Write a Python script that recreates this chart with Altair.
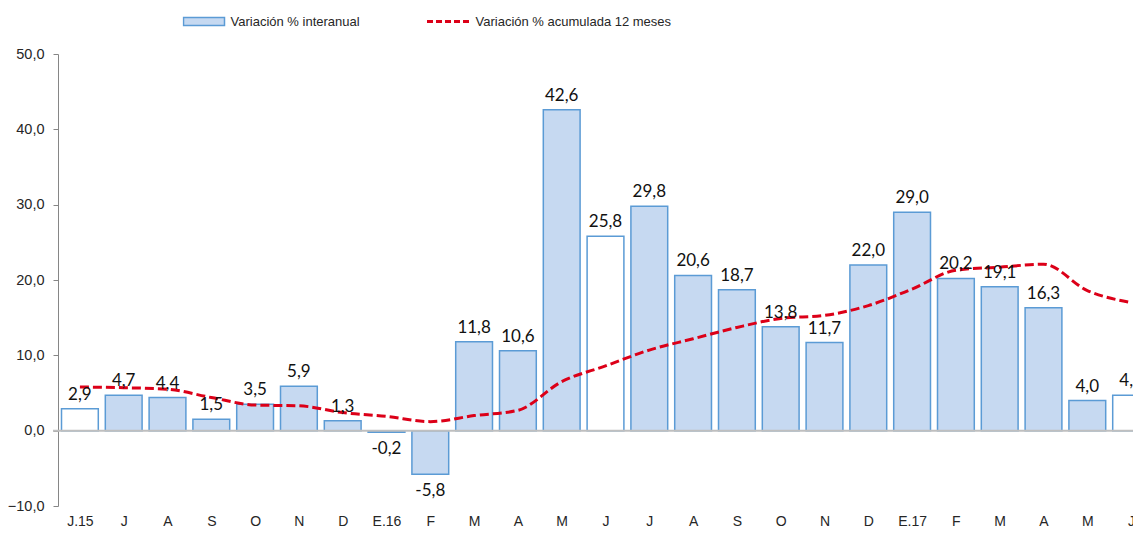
import altair as alt
import pandas as pd

etiquetas = ["J.15", "J", "A", "S", "O", "N", "D", "E.16", "F", "M", "A", "M", "J",
             "J", "A", "S", "O", "N", "D", "E.17", "F", "M", "A", "M", "J"]
interanual = [2.9, 4.7, 4.4, 1.5, 3.5, 5.9, 1.3, -0.2, -5.8, 11.8, 10.6, 42.6, 25.8,
              29.8, 20.6, 18.7, 13.8, 11.7, 22.0, 29.0, 20.2, 19.1, 16.3, 4.0, 4.7]
acumulada = [5.8, 5.7, 5.5, 4.4, 3.4, 3.3, 2.4, 1.9, 1.2, 2.0, 2.7, 6.5, 8.6,
             10.7, 12.2, 13.7, 14.9, 15.3, 16.6, 18.8, 21.3, 21.7, 22.1, 18.6, 17.0]
barras_blancas = [0, 12, 24]
y_ticks = [-10, 0, 10, 20, 30, 40, 50]

serie_barras = "Variación % interanual"
serie_linea = "Variación % acumulada 12 meses"

df = pd.DataFrame({
    "idx": list(range(len(etiquetas))),
    "etiqueta": etiquetas,
    "interanual": interanual,
    "acumulada": acumulada,
})
df["blanca"] = df["idx"].isin(barras_blancas)
df["texto"] = [f"{v:.1f}".replace(".", ",") for v in interanual]
df["serie"] = serie_barras
df["serie2"] = serie_linea

AXIS_FONT = "Liberation Sans"
TEXT_COLOR = "#262626"
label_array = "[" + ",".join("'" + e + "'" for e in etiquetas) + "]"
HALF_BAR = 0.42

PLOT_W = 1075
PLOT_H = 452
STEP = 43.8  # pixels per category, as in the original
# the last category runs past the right edge of the picture, as in the original
x_scale = alt.Scale(domain=[-0.5, -0.5 + PLOT_W / STEP], nice=False, zero=False, padding=0)
x_axis = alt.Axis(
    title=None, labelAngle=0, domain=False, ticks=False, grid=False,
    values=list(range(len(etiquetas))), labelOverlap=False, labelFlush=False,
    labelExpr=label_array + "[datum.value]",
    labelFont=AXIS_FONT, labelFontSize=14, labelColor=TEXT_COLOR,
    labelPadding=8,
)
y_scale = alt.Scale(domain=[-10, 50], nice=False, zero=False, padding=0)

base = alt.Chart(df)

bars = base.transform_calculate(
    x0=f"datum.idx - {HALF_BAR}", x1=f"datum.idx + {HALF_BAR}", base0="0"
).mark_bar(stroke="#5b9bd5", strokeWidth=1.5, orient="vertical").encode(
    x=alt.X("x0:Q", scale=x_scale, axis=x_axis),
    x2="x1:Q",
    y=alt.Y(
        "interanual:Q", scale=y_scale,
        axis=alt.Axis(
            title=None, values=y_ticks, grid=False,
            labelExpr="replace(format(datum.value, '.1f'), '.', ',')",
            labelFont=AXIS_FONT, labelFontSize=14.5, labelColor=TEXT_COLOR,
            domainColor="#868686", tickColor="#868686", tickSize=5,
            labelPadding=9,
        ),
    ),
    y2="base0:Q",
    fill=alt.condition(
        "datum.blanca",
        alt.value("white"),
        alt.Fill(
            "serie:N",
            scale=alt.Scale(domain=[serie_barras], range=["#c6d9f1"]),
            legend=alt.Legend(
                title=None, orient="none", legendX=124.5, legendY=-40.5,
                symbolType="M-1,-0.195L1,-0.195L1,0.195L-1,0.195Z",
                symbolSize=1681, symbolStrokeColor="#5b9bd5",
                symbolStrokeWidth=1.5, symbolOpacity=1, clipHeight=16,
                labelOffset=5, labelFont=AXIS_FONT, labelFontSize=13,
                labelColor=TEXT_COLOR, padding=0, labelLimit=500,
            ),
        ),
    ),
)

zero_rule = alt.Chart(pd.DataFrame({"cero": [0]})).mark_rule(
    color="#bfbfbf", strokeWidth=2
).encode(y=alt.Y("cero:Q", scale=y_scale), x=alt.value(-5), x2=alt.value(PLOT_W))

line = base.mark_line(
    strokeDash=[9, 4], strokeWidth=3, interpolate="monotone", strokeCap="butt"
).encode(
    x=alt.X("idx:Q", scale=x_scale),
    y=alt.Y("acumulada:Q", scale=y_scale),
    stroke=alt.Stroke(
        "serie2:N",
        scale=alt.Scale(domain=[serie_linea], range=["#dc0018"]),
        legend=alt.Legend(
            title=None, orient="none", legendX=367.5, legendY=-40.5,
            symbolType="stroke", symbolSize=1764, symbolStrokeWidth=3,
            symbolDash=[6, 3], clipHeight=16, labelOffset=5,
            labelFont=AXIS_FONT, labelFontSize=13, labelColor=TEXT_COLOR,
            padding=0, labelLimit=500,
        ),
    ),
)

text_pos = base.transform_filter("datum.interanual >= 0").mark_text(
    baseline="alphabetic", dy=-9, font="Lato", fontSize=17, color="#111111"
).encode(
    x=alt.X("idx:Q", scale=x_scale),
    y=alt.Y("interanual:Q", scale=y_scale),
    text="texto:N",
)

text_neg = base.transform_filter("datum.interanual < 0").mark_text(
    baseline="top", dy=9, font="Lato", fontSize=17, color="#111111"
).encode(
    x=alt.X("idx:Q", scale=x_scale),
    y=alt.Y("interanual:Q", scale=y_scale),
    text="texto:N",
)

chart = alt.layer(bars, zero_rule, line, text_pos, text_neg).resolve_scale(
    fill="independent", stroke="independent"
).properties(
    width=PLOT_W,
    height=PLOT_H,
    padding={"left": 50, "top": 46, "right": 0, "bottom": 20},
    autosize=alt.AutoSizeParams(type="none"),
    background="white",
).configure_view(stroke=None)

chart.save("out.html", embed_options={"renderer": "svg", "actions": False})
